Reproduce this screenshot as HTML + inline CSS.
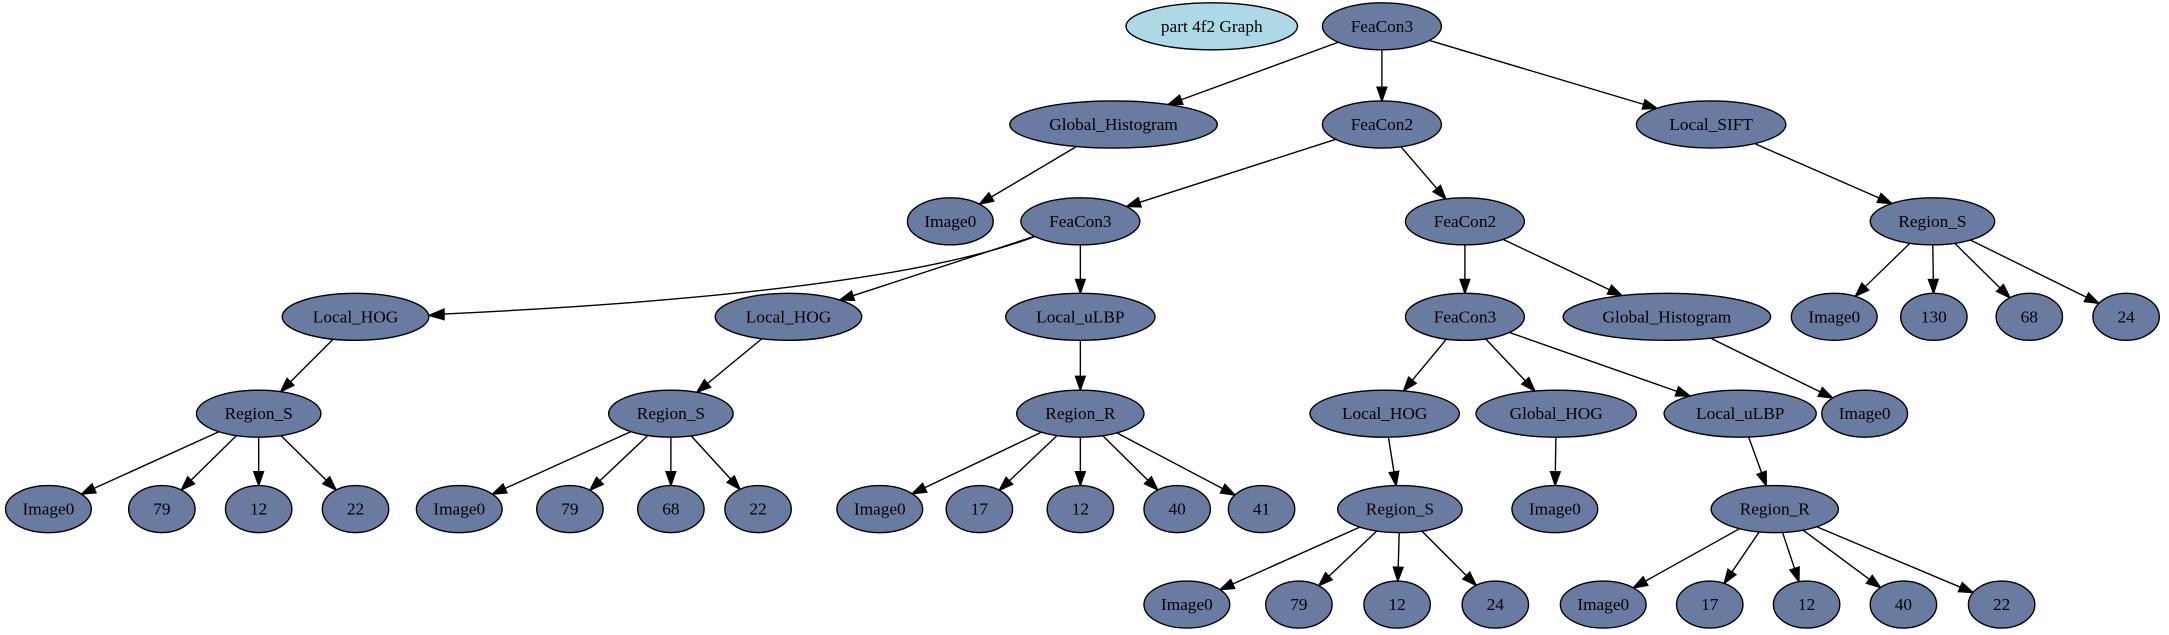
<!DOCTYPE html>
<html><head><meta charset="utf-8"><style>
html,body{margin:0;padding:0;background:#fff;}
svg{display:block;}
text{font-family:"Liberation Serif",serif;font-size:12.5px;text-anchor:middle;dominant-baseline:central;fill:#000;}
ellipse{fill:#6a7ba2;stroke:#000;stroke-width:1;}
</style></head><body>
<svg id="g" width="2169" height="635" viewBox="0 0 1568 459" preserveAspectRatio="none" xmlns="http://www.w3.org/2000/svg">
<g id="edges"></g>
<path d="M748,171 Q640,212 320,227" fill="none" stroke="#000" stroke-width="1"/>
<polygon points="310,228 321,223.5 321,231" fill="#000" stroke="#000"/>
<g id="nodes">
<ellipse cx="876" cy="19" rx="62" ry="17" style="fill:#add8e6"/><text x="876" y="19">part 4f2 Graph</text>
<ellipse id="n0" cx="999" cy="19" rx="43" ry="17"/><text x="999" y="19">FeaCon3</text>
<ellipse id="n1" cx="805" cy="90" rx="75" ry="17"/><text x="805" y="90">Global_Histogram</text>
<ellipse id="n2" cx="999" cy="90" rx="43" ry="17"/><text x="999" y="90">FeaCon2</text>
<ellipse id="n3" cx="1237" cy="90" rx="54" ry="17"/><text x="1237" y="90">Local_SIFT</text>
<ellipse id="n4" cx="687" cy="160" rx="31" ry="17"/><text x="687" y="160">Image0</text>
<ellipse id="n5" cx="781" cy="160" rx="43" ry="17"/><text x="781" y="160">FeaCon3</text>
<ellipse id="n6" cx="1059" cy="160" rx="43" ry="17"/><text x="1059" y="160">FeaCon2</text>
<ellipse id="n7" cx="1397" cy="160" rx="45" ry="17"/><text x="1397" y="160">Region_S</text>
<ellipse id="n8" cx="257" cy="229" rx="53" ry="17"/><text x="257" y="229">Local_HOG</text>
<ellipse id="n9" cx="570" cy="229" rx="53" ry="17"/><text x="570" y="229">Local_HOG</text>
<ellipse id="n10" cx="781" cy="229" rx="54" ry="17"/><text x="781" y="229">Local_uLBP</text>
<ellipse id="n11" cx="1059" cy="229" rx="43" ry="17"/><text x="1059" y="229">FeaCon3</text>
<ellipse id="n12" cx="1205" cy="229" rx="75" ry="17"/><text x="1205" y="229">Global_Histogram</text>
<ellipse id="n13" cx="1326" cy="229" rx="31" ry="17"/><text x="1326" y="229">Image0</text>
<ellipse id="n14" cx="1398" cy="229" rx="24" ry="17"/><text x="1398" y="229">130</text>
<ellipse id="n15" cx="1467" cy="229" rx="24" ry="17"/><text x="1467" y="229">68</text>
<ellipse id="n16" cx="1537" cy="229" rx="24" ry="17"/><text x="1537" y="229">24</text>
<ellipse id="n17" cx="187" cy="299" rx="45" ry="17"/><text x="187" y="299">Region_S</text>
<ellipse id="n18" cx="485" cy="299" rx="45" ry="17"/><text x="485" y="299">Region_S</text>
<ellipse id="n19" cx="781" cy="299" rx="46" ry="17"/><text x="781" y="299">Region_R</text>
<ellipse id="n20" cx="1001" cy="299" rx="54" ry="17"/><text x="1001" y="299">Local_HOG</text>
<ellipse id="n21" cx="1125" cy="299" rx="58" ry="17"/><text x="1125" y="299">Global_HOG</text>
<ellipse id="n22" cx="1258" cy="299" rx="55" ry="17"/><text x="1258" y="299">Local_uLBP</text>
<ellipse id="n23" cx="1348" cy="299" rx="31" ry="17"/><text x="1348" y="299">Image0</text>
<ellipse id="n24" cx="35" cy="368" rx="31" ry="17"/><text x="35" y="368">Image0</text>
<ellipse id="n25" cx="117" cy="368" rx="24" ry="17"/><text x="117" y="368">79</text>
<ellipse id="n26" cx="187" cy="368" rx="24" ry="17"/><text x="187" y="368">12</text>
<ellipse id="n27" cx="257" cy="368" rx="24" ry="17"/><text x="257" y="368">22</text>
<ellipse id="n28" cx="332" cy="368" rx="31" ry="17"/><text x="332" y="368">Image0</text>
<ellipse id="n29" cx="412" cy="368" rx="24" ry="17"/><text x="412" y="368">79</text>
<ellipse id="n30" cx="485" cy="368" rx="24" ry="17"/><text x="485" y="368">68</text>
<ellipse id="n31" cx="548" cy="368" rx="24" ry="17"/><text x="548" y="368">22</text>
<ellipse id="n32" cx="636" cy="368" rx="31" ry="17"/><text x="636" y="368">Image0</text>
<ellipse id="n33" cx="708" cy="368" rx="24" ry="17"/><text x="708" y="368">17</text>
<ellipse id="n34" cx="781" cy="368" rx="24" ry="17"/><text x="781" y="368">12</text>
<ellipse id="n35" cx="851" cy="368" rx="24" ry="17"/><text x="851" y="368">40</text>
<ellipse id="n36" cx="912" cy="368" rx="24" ry="17"/><text x="912" y="368">41</text>
<ellipse id="n37" cx="1012" cy="368" rx="45" ry="17"/><text x="1012" y="368">Region_S</text>
<ellipse id="n38" cx="1124" cy="368" rx="31" ry="17"/><text x="1124" y="368">Image0</text>
<ellipse id="n39" cx="1283" cy="368" rx="46" ry="17"/><text x="1283" y="368">Region_R</text>
<ellipse id="n40" cx="858" cy="437" rx="31" ry="17"/><text x="858" y="437">Image0</text>
<ellipse id="n41" cx="939" cy="437" rx="24" ry="17"/><text x="939" y="437">79</text>
<ellipse id="n42" cx="1010" cy="437" rx="24" ry="17"/><text x="1010" y="437">12</text>
<ellipse id="n43" cx="1081" cy="437" rx="24" ry="17"/><text x="1081" y="437">24</text>
<ellipse id="n44" cx="1159" cy="437" rx="31" ry="17"/><text x="1159" y="437">Image0</text>
<ellipse id="n45" cx="1236" cy="437" rx="24" ry="17"/><text x="1236" y="437">17</text>
<ellipse id="n46" cx="1306" cy="437" rx="24" ry="17"/><text x="1306" y="437">12</text>
<ellipse id="n47" cx="1376" cy="437" rx="24" ry="17"/><text x="1376" y="437">40</text>
<ellipse id="n48" cx="1447" cy="437" rx="24" ry="17"/><text x="1447" y="437">22</text>
</g>
</svg>
<script>
(function(){
var E=[[0,1],[0,2],[0,3],[1,4],[2,5],[2,6],[3,7],[5,9],[5,10],[6,11],[6,12],[7,13],[7,14],[7,15],[7,16],
[8,17],[9,18],[10,19],[11,20],[11,21],[11,22],[12,23],[17,24],[17,25],[17,26],[17,27],[18,28],[18,29],[18,30],[18,31],
[19,32],[19,33],[19,34],[19,35],[19,36],[20,37],[21,38],[22,39],[37,40],[37,41],[37,42],[37,43],[39,44],[39,45],[39,46],[39,47],[39,48]];
function n(i){var e=document.getElementById('n'+i);return{x:+e.getAttribute('cx'),y:+e.getAttribute('cy'),rx:+e.getAttribute('rx'),ry:+e.getAttribute('ry')};}
function b(a,dx,dy){var t=1/Math.sqrt(Math.pow(dx/a.rx,2)+Math.pow(dy/a.ry,2));return[a.x+dx*t,a.y+dy*t];}
var s='';
E.forEach(function(p){var a=n(p[0]),c=n(p[1]);var dx=c.x-a.x,dy=c.y-a.y;var L=Math.hypot(dx,dy),ux=dx/L,uy=dy/L;
var s0=b(a,dx,dy),e0=b(c,-dx,-dy);var bx=e0[0]-ux*10,by=e0[1]-uy*10;
s+='<line x1="'+s0[0]+'" y1="'+s0[1]+'" x2="'+bx+'" y2="'+by+'" stroke="#000" stroke-width="1"/>';
s+='<polygon points="'+e0[0]+','+e0[1]+' '+(bx-uy*3.5)+','+(by+ux*3.5)+' '+(bx+uy*3.5)+','+(by-ux*3.5)+'" fill="#000" stroke="#000"/>';});
document.getElementById('edges').innerHTML=s;
})();
</script>
</body></html>
